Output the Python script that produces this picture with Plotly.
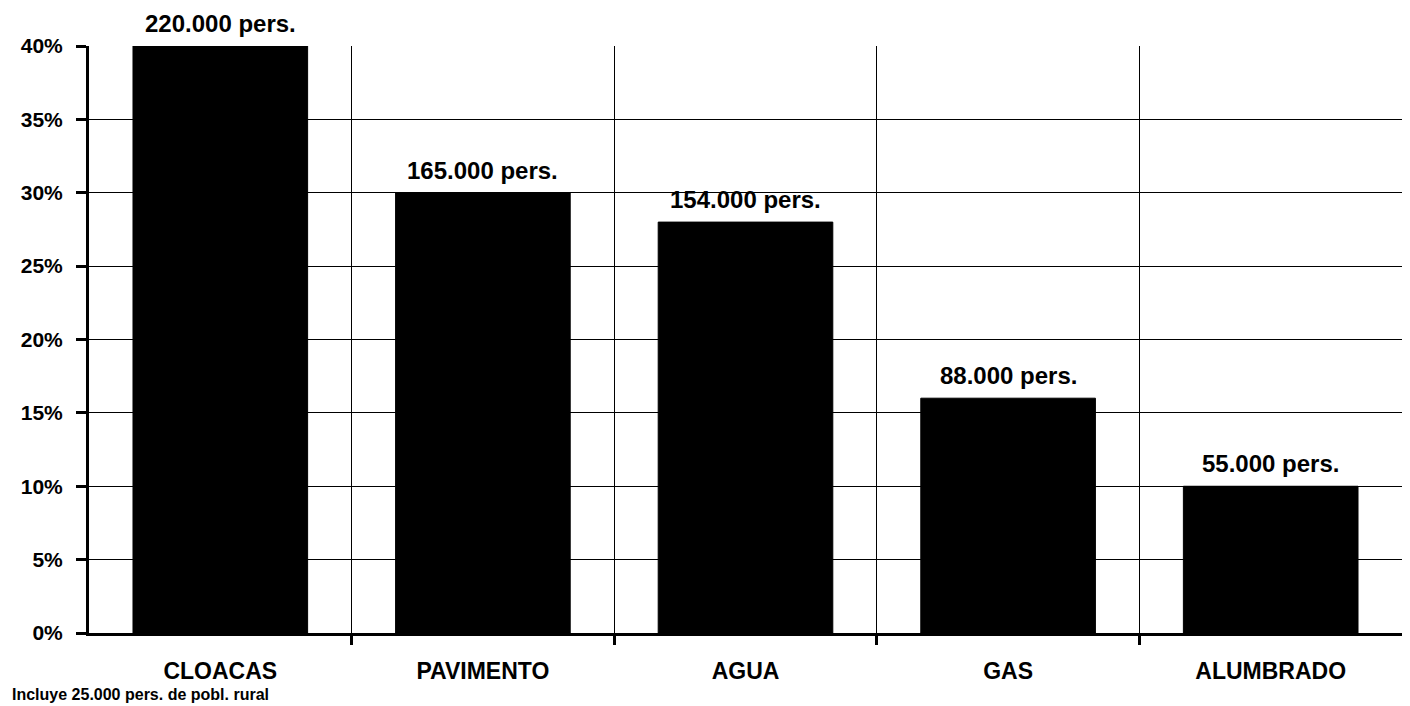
import plotly.graph_objects as go

categories = ["CLOACAS", "PAVIMENTO", "AGUA", "GAS", "ALUMBRADO"]
values = [40, 30, 28, 16, 10]
labels = ["220.000 pers.", "165.000 pers.", "154.000 pers.", "88.000 pers.", "55.000 pers."]
y_ticks = [0, 5, 10, 15, 20, 25, 30, 35, 40]
y_tick_text = [f"{v}%" for v in y_ticks]
footnote = "Incluye 25.000 pers. de pobl. rural"

FONT = "Liberation Sans, Arial, sans-serif"
xpos = list(range(len(categories)))

fig = go.Figure()
fig.add_trace(go.Bar(
    x=xpos, y=values, width=0.665,
    marker=dict(color="black", line=dict(color="black", width=1)),
    cliponaxis=False, hoverinfo="skip",
))

for x, v, t in zip(xpos, values, labels):
    fig.add_annotation(x=x, y=v, text=f"<b>{t}</b>", showarrow=False,
                       yanchor="bottom", yshift=7,
                       font=dict(family=FONT, size=24, color="black"))

fig.add_annotation(xref="paper", yref="paper", x=-0.0605, y=-0.104,
                   xanchor="left", yanchor="middle", showarrow=False,
                   text=f"<b>{footnote}</b>",
                   font=dict(family=FONT, size=16, color="black"))

# page body has an 8px default margin; compensate so plot area lands at (89..1405, 46..633)
fig.update_layout(
    width=1402, height=698,
    margin=dict(l=81, r=5, t=38, b=73),
    paper_bgcolor="white", plot_bgcolor="white",
    showlegend=False,
    font=dict(family=FONT, size=21, color="black"),
)
fig.update_xaxes(
    range=[-0.5, 4.5],
    tickvals=xpos, ticktext=[f"<b>{c}</b>" for c in categories],
    ticks="", showgrid=False, zeroline=False,
    showline=True, linecolor="black", linewidth=3,
    ticklabelstandoff=15,
    tickfont=dict(family=FONT, size=23, color="black"),
    minor=dict(tickvals=[0.5, 1.5, 2.5, 3.5], showgrid=True,
               gridcolor="black", gridwidth=1,
               ticks="outside", ticklen=9, tickwidth=3, tickcolor="black"),
)
fig.update_yaxes(
    range=[0, 40],
    tickvals=y_ticks, ticktext=[f"<b>{t}</b>" for t in y_tick_text],
    ticks="outside", ticklen=10, tickwidth=3, tickcolor="black",
    showgrid=True, gridcolor="black", gridwidth=1,
    zeroline=False,
    showline=True, linecolor="black", linewidth=3, mirror=True,
    ticklabelstandoff=9,
    tickfont=dict(family=FONT, size=21, color="black"),
)

fig.write_html("out.html")
